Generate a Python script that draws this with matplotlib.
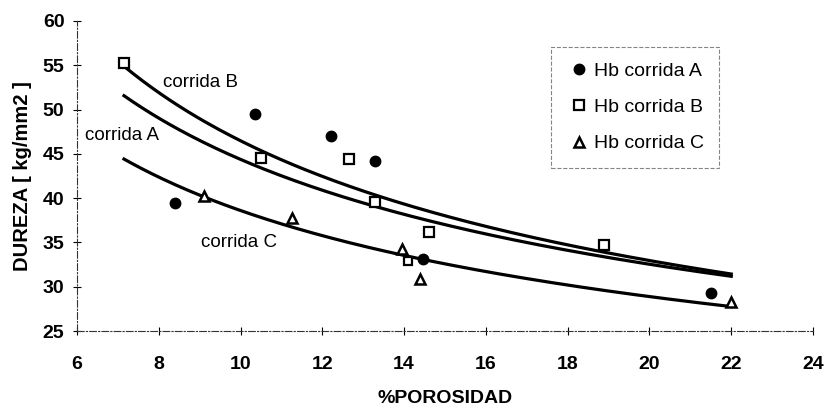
import numpy as np
import matplotlib.pyplot as plt

# datos
x_a = [8.4, 10.35, 12.2, 13.3, 14.45, 21.5]
y_a = [39.5, 49.5, 47.0, 44.2, 33.1, 29.3]

x_b = [7.15, 10.5, 12.65, 13.3, 14.6, 18.9]
y_b = [55.2, 44.5, 44.4, 39.6, 36.2, 34.7]
# punto suelto (cuadro) que no entra en la linea de tendencia
x_b_extra = [14.1]
y_b_extra = [32.9]

x_c = [9.1, 11.25, 13.95, 14.4, 22.0]
y_c = [40.2, 37.8, 34.3, 30.9, 28.3]

x_min, x_max = 7.15, 22.0

plt.rcParams['font.family'] = ['Liberation Sans', 'DejaVu Sans']

fig = plt.figure(figsize=(8.25, 4.09), dpi=100)
ax = fig.add_axes([0.0933, 0.1907, 0.8922, 0.758])

# ajuste potencial y = a*x^b (linea de tendencia)
xs = np.linspace(x_min, x_max, 200)
for xd, yd in [(x_a, y_a), (x_b, y_b), (x_c, y_c)]:
    b, lna = np.polyfit(np.log(xd), np.log(yd), 1)
    ax.plot(xs, np.exp(lna) * xs**b, color='black', lw=2.3, zorder=2)

ax.plot(x_a, y_a, 'o', color='black', ms=7.5, label='Hb corrida A', zorder=3)
ax.plot(x_b, y_b, 's', mfc='white', mec='black', mew=1.6, ms=7,
        label='Hb corrida B', zorder=3)
ax.plot(x_b_extra, y_b_extra, 's', mfc='white', mec='black', mew=1.6, ms=6,
        zorder=3)
ax.plot(x_c, y_c, '^', mfc='white', mec='black', mew=1.8, ms=7.5,
        label='Hb corrida C', zorder=3)

ax.text(8.1, 53.05, 'corrida B', fontsize=13.5, va='center')
ax.text(6.2, 47.05, 'corrida A', fontsize=13.5, va='center')
ax.text(9.03, 34.95, 'corrida C', fontsize=13.5, va='center')

ax.set_xlim(6, 24)
ax.set_ylim(25, 60)
ax.set_xticks(np.arange(6, 25, 2))
ax.set_yticks(np.arange(25, 61, 5))
ax.tick_params(direction='inout', length=6, width=0.8, labelsize=14)
ax.tick_params(axis='x', pad=15)
ax.tick_params(axis='y', pad=6)
for lab in ax.get_xticklabels() + ax.get_yticklabels():
    lab.set_fontweight('bold')

for s in ['top', 'right']:
    ax.spines[s].set_visible(False)
for s in ['left', 'bottom']:
    ax.spines[s].set_linestyle((0, (6, 2, 1, 2)))
    ax.spines[s].set_linewidth(0.8)
    ax.spines[s].set_color('#333333')

ax.set_xlabel('%POROSIDAD', fontsize=14, fontweight='bold', labelpad=12)
ax.set_ylabel('DUREZA [ kg/mm2 ]', fontsize=14.5, fontweight='bold', labelpad=8)

leg = ax.legend(loc='upper left', bbox_to_anchor=(0.644, 0.916), fontsize=14,
                frameon=True, fancybox=False, handletextpad=0.1,
                handlelength=1.3, labelspacing=0.95, borderpad=0.8,
                borderaxespad=0)
leg.get_frame().set_edgecolor('#666666')
leg.get_frame().set_linestyle('--')
leg.get_frame().set_linewidth(0.8)

fig.savefig('out.png', dpi=100)
